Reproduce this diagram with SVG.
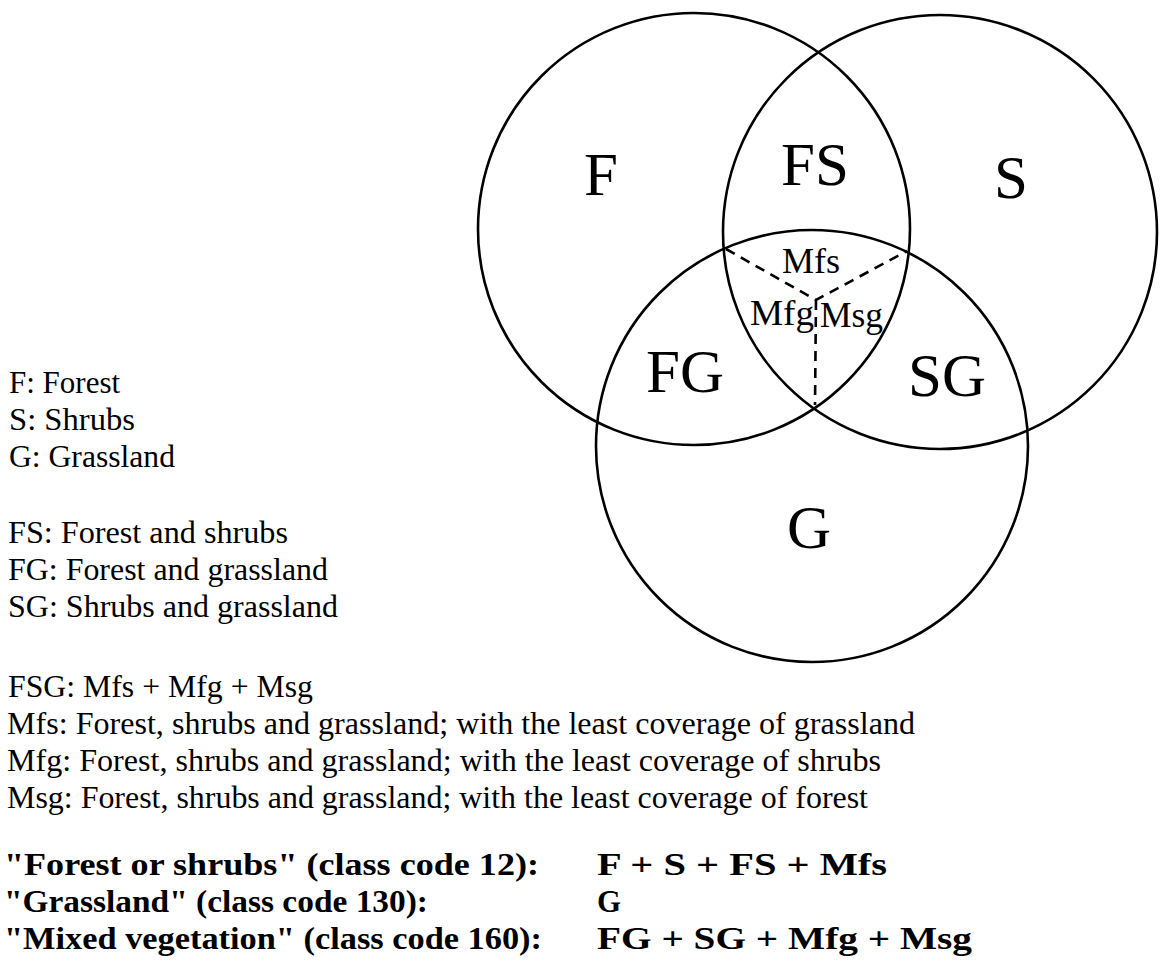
<svg xmlns="http://www.w3.org/2000/svg" width="1160" height="969" viewBox="0 0 1160 969">
<style>
.c{fill:none;stroke:#000;stroke-width:2.6}
.d{fill:none;stroke:#000;stroke-width:2.6;stroke-dasharray:10 7}
.big{font-family:"Liberation Serif","Times New Roman",serif;font-size:61px;fill:#000;text-anchor:middle}
.mid{font-family:"Liberation Serif","Times New Roman",serif;font-size:36px;fill:#000}
.t{font-family:"Liberation Serif","Times New Roman",serif;font-size:31px;fill:#000}
.b{font-family:"Liberation Serif","Times New Roman",serif;font-size:31px;font-weight:bold;fill:#000}
</style>
<rect width="1160" height="969" fill="#fff"/>
<g id="circle-F"><circle class="c" cx="694" cy="229" r="216"/></g>
<g id="circle-S"><circle class="c" cx="940" cy="232" r="217"/></g>
<g id="circle-G"><circle class="c" cx="812" cy="446" r="216"/></g>
<g id="connectors">
<path class="d" d="M726 249 L816 300 L907 251 M816 300 L815 405"/>
</g>
<g id="labels">
<text class="big" x="601" y="195">F</text>
<text class="big" x="815" y="185">FS</text>
<text class="big" x="1011" y="198">S</text>
<text class="big" x="685" y="392">FG</text>
<text class="big" x="947" y="396">SG</text>
<text class="big" x="809" y="548">G</text>
<text class="mid" x="811" y="273" text-anchor="middle">Mfs</text>
<text class="mid" x="750" y="325" textLength="64" lengthAdjust="spacingAndGlyphs">Mfg</text>
<text class="mid" x="820" y="327" textLength="63" lengthAdjust="spacingAndGlyphs">Msg</text>
</g>
<g id="legend" xml:space="preserve">
<text class="t" x="9" y="393">F: Forest</text>
<text class="t" x="9" y="430" textLength="126" lengthAdjust="spacingAndGlyphs">S: Shrubs</text>
<text class="t" x="9" y="467" textLength="166" lengthAdjust="spacingAndGlyphs">G: Grassland</text>
<text class="t" x="8" y="543" textLength="280" lengthAdjust="spacingAndGlyphs">FS: Forest and shrubs</text>
<text class="t" x="8" y="580" textLength="320" lengthAdjust="spacingAndGlyphs">FG: Forest and grassland</text>
<text class="t" x="8" y="617" textLength="330" lengthAdjust="spacingAndGlyphs">SG: Shrubs and grassland</text>
<text class="t" x="8" y="697" textLength="305" lengthAdjust="spacingAndGlyphs">FSG: Mfs + Mfg + Msg</text>
<text class="t" x="7" y="734" textLength="908" lengthAdjust="spacingAndGlyphs">Mfs: Forest, shrubs and grassland;  with the least coverage of grassland</text>
<text class="t" x="7" y="771" textLength="874" lengthAdjust="spacingAndGlyphs">Mfg: Forest, shrubs and grassland;  with the least coverage of shrubs</text>
<text class="t" x="7" y="808" textLength="861" lengthAdjust="spacingAndGlyphs">Msg: Forest, shrubs and grassland;  with the least coverage of forest</text>
<text class="b" x="4" y="875" textLength="535" lengthAdjust="spacingAndGlyphs">"Forest or shrubs"  (class  code  12):</text>
<text class="b" x="4" y="912" textLength="424" lengthAdjust="spacingAndGlyphs">"Grassland"  (class  code  130):</text>
<text class="b" x="4" y="949" textLength="538" lengthAdjust="spacingAndGlyphs">"Mixed vegetation"  (class  code  160):</text>
<text class="b" x="597" y="875" textLength="290" lengthAdjust="spacingAndGlyphs">F + S + FS + Mfs</text>
<text class="b" x="597" y="912">G</text>
<text class="b" x="597" y="949" textLength="375" lengthAdjust="spacingAndGlyphs">FG + SG + Mfg + Msg</text>
</g>
</svg>
